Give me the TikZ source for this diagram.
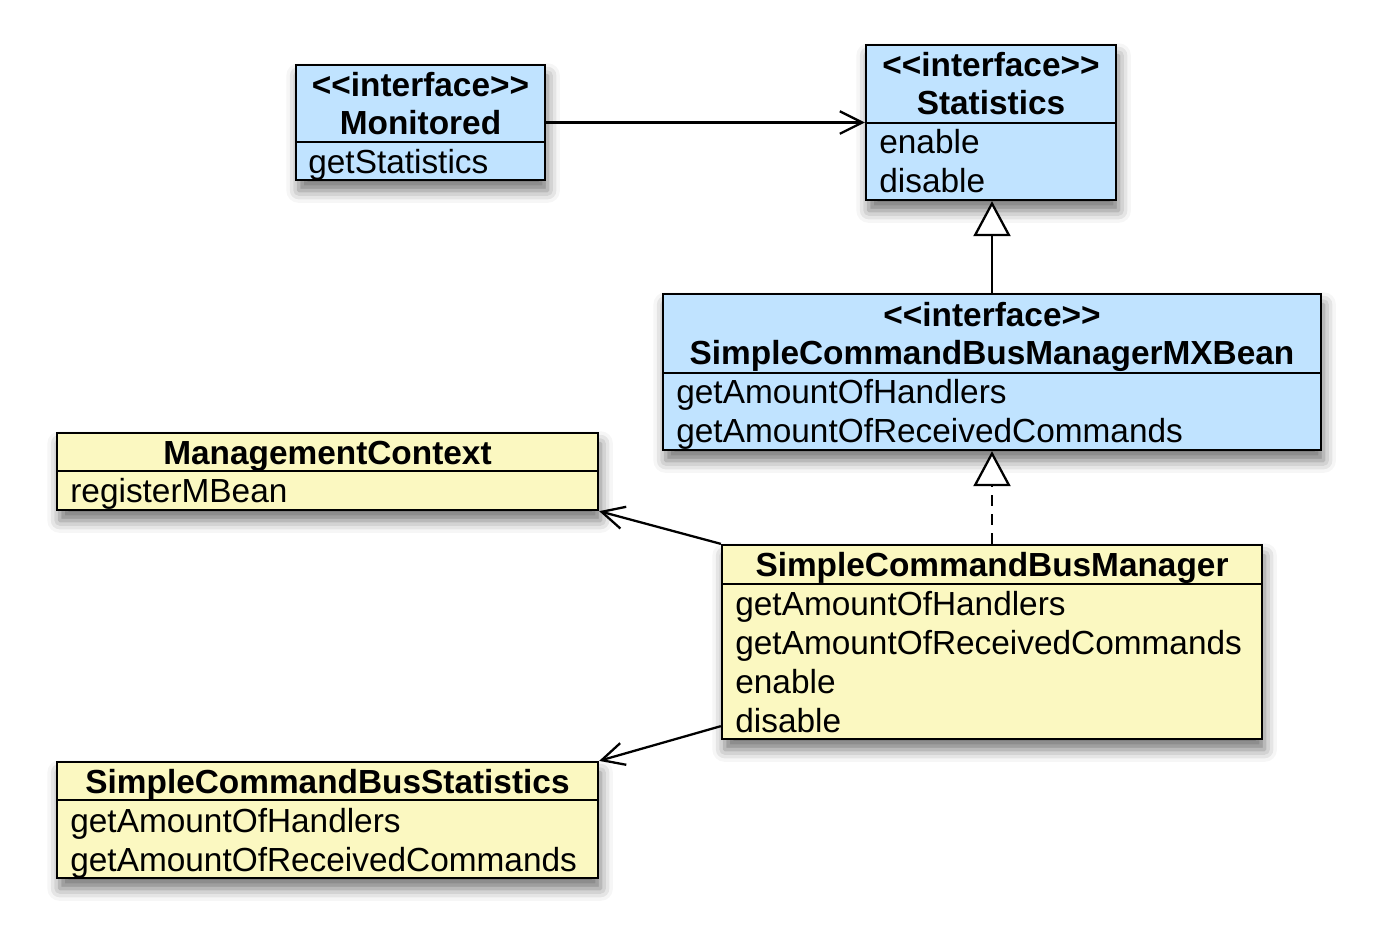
\documentclass[tikz,border=0pt]{standalone}
\usepackage{fontspec}
\setmainfont{Liberation Sans}
\usetikzlibrary{arrows.meta, positioning, fit, calc, shadows.blur}

\definecolor{ifaceblue}{RGB}{192,227,255}
\definecolor{classyellow}{RGB}{251,248,193}

\newcommand{\stereo}{<{}<interface>{}>}

\begin{document}
\begin{tikzpicture}[
        x=0.02cm, y=-0.02cm,
        font=\fontsize{19}{22}\selectfont,
        % Define class box styles
        umlbox/.style={rectangle, draw, line width=1.3pt, inner sep=0pt,
            blur shadow={shadow xshift=1.5pt, shadow yshift=-6pt, shadow blur radius=7pt, shadow opacity=55}},
        iface/.style={umlbox, fill=ifaceblue},
        cls/.style={umlbox, fill=classyellow},
        title/.style={anchor=base, inner sep=0pt, font=\fontsize{19}{22}\selectfont\bfseries},
        member/.style={anchor=base west, inner sep=0pt},
        divider/.style={line width=1.3pt},
        assoc/.style={line width=1.3pt, -{Straight Barb[length=0.45cm, width=0.45cm]}},
        inherit/.style={line width=1.3pt, -{Triangle[fill=white, length=0.7cm, width=0.74cm]}},
        realize/.style={inherit, dash pattern=on 0.22cm off 0.16cm}
    ]

    \useasboundingbox (0,0) rectangle (1377,944);

    % Monitored interface
    \node[iface, fit={(296,65) (545,180)}] (mon) {};
    \draw[divider] (296,142) -- (545,142);
    \node[title] (mon-s) at (420.5,96) {\stereo};
    \node[title] (mon-n) at (420.5,134) {Monitored};
    \node[member] (mon-1) at (308,173) {getStatistics};

    % Statistics interface
    \node[iface, fit={(866,45) (1116,200)}] (stat) {};
    \draw[divider] (866,123) -- (1116,123);
    \node[title] (stat-s) at (991,76) {\stereo};
    \node[title] (stat-n) at (991,114) {Statistics};
    \node[member] (stat-1) at (879,153) {enable};
    \node[member] (stat-2) at (879,192) {disable};

    % MXBean interface
    \node[iface, fit={(663,294) (1321,450)}] (mxb) {};
    \draw[divider] (663,373) -- (1321,373);
    \node[title] (mxb-s) at (992,326) {\stereo};
    \node[title] (mxb-n) at (992,364) {SimpleCommandBusManagerMXBean};
    \node[member] (mxb-1) at (676,403) {getAmountOfHandlers};
    \node[member] (mxb-2) at (676,442) {getAmountOfReceivedCommands};

    % ManagementContext class
    \node[cls, fit={(57,433) (598,510)}] (mc) {};
    \draw[divider] (57,471) -- (598,471);
    \node[title] (mc-n) at (327.5,464) {ManagementContext};
    \node[member] (mc-1) at (70,502) {registerMBean};

    % SimpleCommandBusManager class
    \node[cls, fit={(722,545) (1262,739)}] (mgr) {};
    \draw[divider] (722,584) -- (1262,584);
    \node[title] (mgr-n) at (992,576) {SimpleCommandBusManager};
    \node[member] (mgr-1) at (735,615) {getAmountOfHandlers};
    \node[member] (mgr-2) at (735,654) {getAmountOfReceivedCommands};
    \node[member] (mgr-3) at (735,693) {enable};
    \node[member] (mgr-4) at (735,732) {disable};

    % SimpleCommandBusStatistics class
    \node[cls, fit={(57,762) (598,878)}] (scbs) {};
    \draw[divider] (57,800) -- (598,800);
    \node[title] (scbs-n) at (327.5,793) {SimpleCommandBusStatistics};
    \node[member] (scbs-1) at (70,832) {getAmountOfHandlers};
    \node[member] (scbs-2) at (70,871) {getAmountOfReceivedCommands};

    % Relations
    \draw[assoc] (mon.east) -- (stat.west);
    \draw[inherit] (mxb.north) -- (mxb.north |- stat.south);
    \draw[realize] (mgr.north) -- (mgr.north |- mxb.south);
    \draw[assoc] (mgr.north west) -- (mc.south east);
    \draw[assoc] ([yshift=0.28cm]mgr.south west) -- (scbs.north east);

\end{tikzpicture}
\end{document}
